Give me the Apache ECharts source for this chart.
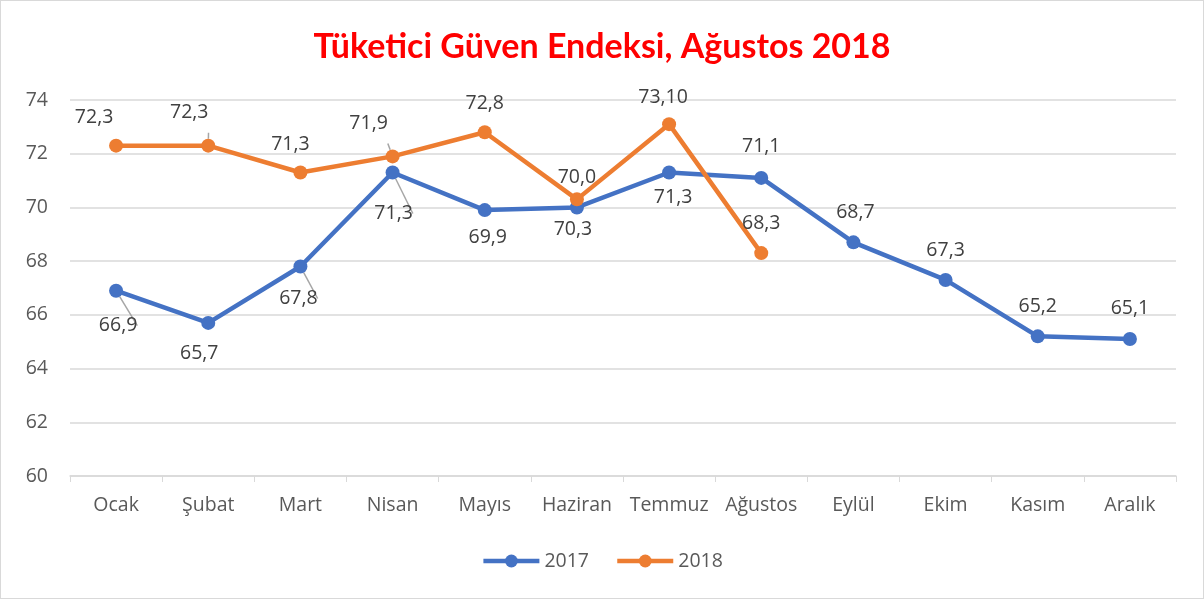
<!DOCTYPE html>
<html>
<head>
<meta charset="utf-8">
<script src="https://cdn.jsdelivr.net/npm/echarts@6/dist/echarts.min.js"></script>
<style>
  html, body { margin: 0; padding: 0; background: #fff; }
  #main { width: 1202px; height: 597px; border: 1px solid #D9D9D9; }
</style>
</head>
<body>
<div id="main"></div>
<script>
var months = ['Ocak', 'Şubat', 'Mart', 'Nisan', 'Mayıs', 'Haziran', 'Temmuz', 'Ağustos', 'Eylül', 'Ekim', 'Kasım', 'Aralık'];
var values2017 = [66.9, 65.7, 67.8, 71.3, 69.9, 70.0, 71.3, 71.1, 68.7, 67.3, 65.2, 65.1];
var values2018 = [72.3, 72.3, 71.3, 71.9, 72.8, 70.3, 73.1, 68.3];
// label texts as printed on the chart
var labels2017 = ['66,9', '65,7', '67,8', '71,3', '69,9', '70,3', '71,3', '71,1', '68,7', '67,3', '65,2', '65,1'];
var labels2018 = ['72,3', '72,3', '71,3', '71,9', '72,8', '70,0', '73,10', '68,3'];
var yTicks = [60, 62, 64, 66, 68, 70, 72, 74];

// label nudges (px from the point) and which ones get a leader line
var off2017 = [[2, 35], [-9, 31], [-2, 32], [1, 41], [3, 27], [-4, 22], [4, 25], [0, -31], [2, -30], [0, -30], [0, -30], [0, -31]];
var lead2017 = [true, false, true, true, false, false, false, false, false, false, false, false];
var off2018 = [[-22, -28], [-19, -33], [-10, -28], [-24, -33], [0, -29], [0, -22], [-6, -27], [0, -30]];
var lead2018 = [false, true, false, true, false, false, false, false];

function buildData(vals, texts, offs, leads) {
    return vals.map(function (v, i) {
        return {
            value: v,
            label: { formatter: texts[i], offset: offs[i] },
            labelLine: { show: leads[i] }
        };
    });
}

var myChart = echarts.init(document.getElementById('main'));
var font = '"Open Sans", sans-serif';
var option = {
    animation: false,
    title: {
        text: 'Tüketici Güven Endeksi, Ağustos 2018',
        left: 'center',
        top: 24,
        textStyle: { color: '#FF0000', fontSize: 34, fontWeight: 'bold', fontFamily: 'Lato, sans-serif' }
    },
    legend: {
        bottom: 22,
        left: 'center',
        itemWidth: 56,
        itemHeight: 16,
        itemGap: 26,
        lineStyle: { width: 4.5 },
        textStyle: { color: '#595959', fontSize: 19.5, fontFamily: font },
        data: ['2017', '2018']
    },
    grid: { left: 69, right: 27, top: 99, bottom: 122 },
    xAxis: {
        type: 'category',
        data: months,
        boundaryGap: true,
        axisLine: { lineStyle: { color: '#D9D9D9', width: 1.5 } },
        axisTick: { show: true, interval: 0, length: 6, lineStyle: { color: '#D9D9D9' } },
        axisLabel: { interval: 0, color: '#595959', fontSize: 19.5, fontFamily: font, margin: 19 }
    },
    yAxis: {
        type: 'value',
        min: yTicks[0],
        max: yTicks[yTicks.length - 1],
        interval: 2,
        axisLine: { show: false },
        axisTick: { show: false },
        splitLine: { lineStyle: { color: '#D9D9D9', width: 1.5 } },
        axisLabel: { color: '#595959', fontSize: 19.5, fontFamily: font, margin: 22 }
    },
    series: [
        {
            name: '2017',
            type: 'line',
            data: buildData(values2017, labels2017, off2017, lead2017),
            symbol: 'circle',
            symbolSize: 14,
            lineStyle: { color: '#4472C4', width: 4.5 },
            itemStyle: { color: '#4472C4' },
            label: { show: true, position: 'inside', color: '#404040', fontSize: 19.5, fontFamily: font },
            labelLine: { lineStyle: { color: '#A6A6A6', width: 1.5 } },
            z: 2
        },
        {
            name: '2018',
            type: 'line',
            data: buildData(values2018, labels2018, off2018, lead2018),
            symbol: 'circle',
            symbolSize: 14,
            lineStyle: { color: '#ED7D31', width: 4.5 },
            itemStyle: { color: '#ED7D31' },
            label: { show: true, position: 'inside', color: '#404040', fontSize: 19.5, fontFamily: font },
            labelLine: { lineStyle: { color: '#A6A6A6', width: 1.5 } },
            z: 3
        }
    ]
};
myChart.setOption(option);
</script>
</body>
</html>
